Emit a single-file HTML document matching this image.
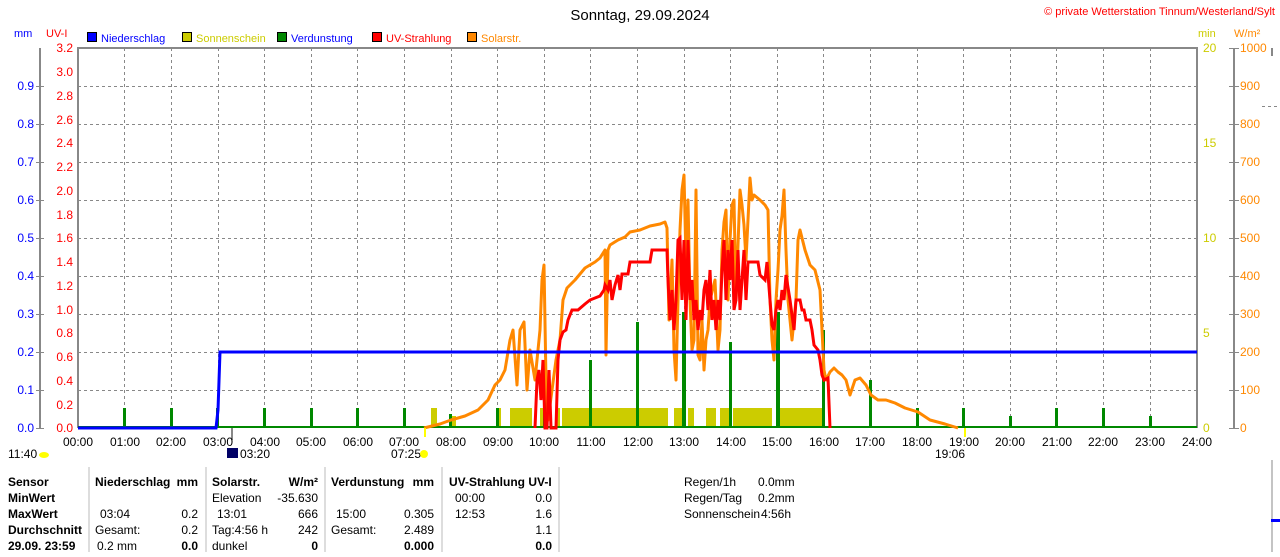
<!DOCTYPE html>
<html><head><meta charset="utf-8"><style>
body{margin:0;width:1280px;height:552px;background:#fff;overflow:hidden;font-family:"Liberation Sans",sans-serif}
svg text{font-family:"Liberation Sans",sans-serif;font-size:12px}
</style></head><body>
<svg width="1280" height="552" viewBox="0 0 1280 552" xmlns="http://www.w3.org/2000/svg">
<text x="640" y="20" text-anchor="middle" font-size="15" style="font-size:15px" fill="#000">Sonntag, 29.09.2024</text>
<text x="1275" y="15" text-anchor="end" fill="#f00" style="font-size:11px">© private Wetterstation Tinnum/Westerland/Sylt</text>
<text x="14" y="37" fill="#00f" style="font-size:11px">mm</text>
<text x="46" y="37" fill="#f00" style="font-size:11px">UV-I</text>
<g style="font-size:11px">
<rect x="87.5" y="32.5" width="9" height="9" fill="#00f" stroke="#000"/><text x="101" y="42" fill="#00f" style="font-size:11px">Niederschlag</text>
<rect x="182.5" y="32.5" width="9" height="9" fill="#cc0" stroke="#000"/><text x="196" y="42" fill="#cc0" style="font-size:11px">Sonnenschein</text>
<rect x="277.5" y="32.5" width="9" height="9" fill="#080" stroke="#000"/><text x="291" y="42" fill="#00f" style="font-size:11px">Verdunstung</text>
<rect x="372.5" y="32.5" width="9" height="9" fill="#f00" stroke="#000"/><text x="386" y="42" fill="#f00" style="font-size:11px">UV-Strahlung</text>
<rect x="467.5" y="32.5" width="9" height="9" fill="#f80" stroke="#000"/><text x="481" y="42" fill="#f80" style="font-size:11px">Solarstr.</text>
</g>
<text x="1198" y="37" fill="#cc0" style="font-size:11px">min</text>
<text x="1234" y="37" fill="#f80" style="font-size:11px">W/m²</text>
<!-- grid -->
<g stroke="#888" stroke-dasharray="3,3" stroke-width="1">
<path d="M78 86.5H1197M78 124.5H1197M78 162.5H1197M78 200.5H1197M78 238.5H1197M78 276.5H1197M78 314.5H1197M78 352.5H1197M78 390.5H1197"/>
<path d="M124.5 48V428M171.5 48V428M218.5 48V428M264.5 48V428M311.5 48V428M357.5 48V428M404.5 48V428M451.5 48V428M497.5 48V428M544.5 48V428M590.5 48V428M637.5 48V428M684.5 48V428M730.5 48V428M777.5 48V428M823.5 48V428M870.5 48V428M917.5 48V428M963.5 48V428M1010.5 48V428M1056.5 48V428M1103.5 48V428M1150.5 48V428"/>
<path d="M1262 106.5H1280"/>
</g>
<g stroke="#888" stroke-width="2" fill="none">
<path d="M78 428V48H1197V428"/>
<path d="M40 48V428M1234 48V428M1272 48V56"/>
<path d="M232 428V440"/>
</g>
<path d="M1272 460V552" stroke="#888"/>
<rect x="1271" y="519" width="9" height="3" fill="#00f"/>
<!-- left mm ticks -->
<g fill="#00f" text-anchor="end" style="font-size:11px">
<text x="34" y="90">0.9</text><text x="34" y="128">0.8</text><text x="34" y="166">0.7</text><text x="34" y="204">0.6</text><text x="34" y="242">0.5</text><text x="34" y="280">0.4</text><text x="34" y="318">0.3</text><text x="34" y="356">0.2</text><text x="34" y="394">0.1</text><text x="34" y="432">0.0</text>
</g>
<g stroke="#888"><path d="M36 86.5H44M36 124.5H44M36 162.5H44M36 200.5H44M36 238.5H44M36 276.5H44M36 314.5H44M36 352.5H44M36 390.5H44M36 428.5H44"/></g>
<g fill="#f00" text-anchor="end" style="font-size:11px">
<text x="73" y="52">3.2</text><text x="73" y="76">3.0</text><text x="73" y="100">2.8</text><text x="73" y="124">2.6</text><text x="73" y="147">2.4</text><text x="73" y="171">2.2</text><text x="73" y="195">2.0</text><text x="73" y="219">1.8</text><text x="73" y="242">1.6</text><text x="73" y="266">1.4</text><text x="73" y="290">1.2</text><text x="73" y="314">1.0</text><text x="73" y="337">0.8</text><text x="73" y="361">0.6</text><text x="73" y="385">0.4</text><text x="73" y="409">0.2</text><text x="73" y="432">0.0</text>
</g>
<g fill="#cc0" style="font-size:11px"><text x="1203" y="52">20</text><text x="1203" y="147">15</text><text x="1203" y="242">10</text><text x="1203" y="337">5</text><text x="1203" y="432">0</text></g>
<g fill="#f80" style="font-size:11px"><text x="1240" y="52">1000</text><text x="1240" y="90">900</text><text x="1240" y="128">800</text><text x="1240" y="166">700</text><text x="1240" y="204">600</text><text x="1240" y="242">500</text><text x="1240" y="280">400</text><text x="1240" y="318">300</text><text x="1240" y="356">200</text><text x="1240" y="394">100</text><text x="1240" y="432">0</text></g>
<g stroke="#888"><path d="M1229 48.5H1239M1229 86.5H1239M1229 124.5H1239M1229 162.5H1239M1229 200.5H1239M1229 238.5H1239M1229 276.5H1239M1229 314.5H1239M1229 352.5H1239M1229 390.5H1239M1229 428.5H1239"/></g>
<!-- sunshine -->
<g fill="#cc0">
<rect x="431" y="408" width="6" height="20"/><rect x="452" y="416" width="4" height="12"/><rect x="497" y="408" width="4" height="20"/><rect x="510" y="408" width="22" height="20"/><rect x="540" y="408" width="3" height="20"/><rect x="556" y="408" width="4" height="20"/><rect x="562" y="408" width="106" height="20"/><rect x="674" y="408" width="9" height="20"/><rect x="688" y="408" width="6" height="20"/><rect x="706" y="408" width="10" height="20"/><rect x="720" y="408" width="10" height="20"/><rect x="733" y="408" width="39" height="20"/><rect x="778" y="408" width="44" height="20"/>
</g>
<!-- evaporation -->
<g fill="#080">
<rect x="123" y="408" width="3" height="20"/><rect x="170" y="408" width="3" height="20"/><rect x="216" y="408" width="3" height="20"/><rect x="263" y="408" width="3" height="20"/><rect x="310" y="408" width="3" height="20"/><rect x="356" y="408" width="3" height="20"/><rect x="403" y="408" width="3" height="20"/><rect x="449" y="414" width="3" height="14"/><rect x="496" y="408" width="3" height="20"/><rect x="543" y="380" width="3" height="48"/><rect x="589" y="360" width="3" height="68"/><rect x="636" y="322" width="3" height="106"/><rect x="682" y="312" width="4" height="116"/><rect x="729" y="342" width="3" height="86"/><rect x="776" y="312" width="4" height="116"/><rect x="822" y="330" width="3" height="98"/><rect x="869" y="380" width="3" height="48"/><rect x="916" y="408" width="3" height="20"/><rect x="962" y="408" width="3" height="20"/><rect x="1009" y="416" width="3" height="12"/><rect x="1055" y="408" width="3" height="20"/><rect x="1102" y="408" width="3" height="20"/><rect x="1149" y="416" width="3" height="12"/>
</g>
<path d="M78 427H1197" stroke="#080" stroke-width="2"/>
<!-- solar -->
<polyline fill="none" stroke="#f80" stroke-width="3" stroke-linejoin="round" points="424,428 440,424 451,420 465,416 478,410 488,400 495,385 500,380 505,370 510,340 513,330 517,385 520,330 524,322 527,390 530,350 535,380 540,330 542,280 544,265 546,380 548,420 552,390 556,360 560,340 563,300 567,288 575,280 585,268 595,262 600,258 605,250 606,355 608,250 610,245 618,240 625,237 630,232 640,230 650,226 660,224 665,222 667,228 669,320 672,260 674,350 676,380 678,300 680,230 682,190 684,175 686,260 688,200 690,300 692,350 694,340 696,190 698,355 700,360 702,320 704,370 706,340 708,330 710,300 715,280 718,350 720,330 722,250 724,222 726,210 728,300 730,240 732,205 734,200 736,300 738,245 740,190 742,205 744,225 746,260 748,220 750,178 752,200 754,195 760,200 765,205 768,210 770,300 772,340 774,360 776,300 778,270 780,230 782,216 784,190 786,250 788,300 790,320 792,340 794,320 796,300 798,240 800,230 805,250 810,265 815,270 820,290 822,330 824,370 826,380 830,372 834,368 838,372 842,375 846,380 850,395 855,380 860,378 866,385 871,395 878,400 886,400 895,403 905,408 918,412 930,420 945,424 958,428"/>
<!-- UV -->
<polyline fill="none" stroke="#f00" stroke-width="3" stroke-linejoin="miter" points="535,428 537,380 539,370 541,400 543,360 545,428 547,428 549,370 551,428 556,428 558,360 560,340 563,332 566,330 568,320 572,310 578,310 585,304 590,300 595,298 600,296 604,290 605,285 608,290 610,280 612,300 615,285 618,275 620,290 622,274 628,274 630,262 640,262 650,262 652,250 667,250 668,280 670,320 672,290 674,330 676,300 678,240 680,238 682,300 684,240 686,320 688,240 690,300 692,280 694,320 696,300 698,330 700,310 702,320 704,290 706,280 708,310 710,270 712,320 714,300 716,330 718,300 720,320 722,270 724,240 726,300 728,250 730,280 732,240 734,310 736,300 738,250 740,310 742,280 744,250 746,300 748,262 755,262 758,262 760,275 765,280 767,262 770,300 772,325 774,330 776,310 778,300 780,310 782,290 784,300 786,275 790,300 794,330 796,300 800,300 802,310 804,310 806,320 810,320 812,330 814,345 818,350 820,360 822,375 824,380 828,378 830,428"/>
<!-- rain -->
<polyline fill="none" stroke="#00f" stroke-width="3" points="78,428 216,428 218,410 220,352 1197,352"/>
<!-- x labels -->
<g fill="#000" text-anchor="middle" style="font-size:11px">
<text x="78" y="446">00:00</text><text x="125" y="446">01:00</text><text x="171" y="446">02:00</text><text x="218" y="446">03:00</text><text x="265" y="446">04:00</text><text x="311" y="446">05:00</text><text x="358" y="446">06:00</text><text x="404" y="446">07:00</text><text x="451" y="446">08:00</text><text x="498" y="446">09:00</text><text x="544" y="446">10:00</text><text x="591" y="446">11:00</text><text x="638" y="446">12:00</text><text x="684" y="446">13:00</text><text x="731" y="446">14:00</text><text x="777" y="446">15:00</text><text x="824" y="446">16:00</text><text x="870" y="446">17:00</text><text x="917" y="446">18:00</text><text x="964" y="446">19:00</text><text x="1010" y="446">20:00</text><text x="1057" y="446">21:00</text><text x="1103" y="446">22:00</text><text x="1150" y="446">23:00</text><text x="1197" y="446">24:00</text>
</g>
<g fill="#000" style="font-size:11px"><text x="8" y="458">11:40</text><text x="240" y="458">03:20</text><text x="391" y="458">07:25</text><text x="935" y="458">19:06</text></g>
<ellipse cx="44" cy="455" rx="5" ry="3" fill="#ff0"/>
<rect x="227" y="448" width="11" height="10" fill="#006"/>
<circle cx="424" cy="454" r="4" fill="#ff0"/>
<rect x="424" y="428" width="2" height="9" fill="#ff0"/>
<rect x="964" y="428" width="2" height="9" fill="#ff0"/>
<!-- table -->
<g stroke="#bbb"><path d="M89 467V552M206 467V552M325 467V552M442 467V552M559 467V552"/></g>
<g fill="#000" style="font-size:11px">
<g font-weight="bold"><text x="8" y="486">Sensor</text><text x="8" y="502">MinWert</text><text x="8" y="518">MaxWert</text><text x="8" y="534">Durchschnitt</text><text x="8" y="550">29.09. 23:59</text>
<text x="95" y="486">Niederschlag</text><text x="198" y="486" text-anchor="end">mm</text>
<text x="212" y="486">Solarstr.</text><text x="318" y="486" text-anchor="end">W/m²</text>
<text x="331" y="486">Verdunstung</text><text x="434" y="486" text-anchor="end">mm</text>
<text x="449" y="486">UV-Strahlung UV-I</text>
<text x="198" y="550" text-anchor="end">0.0</text><text x="318" y="550" text-anchor="end">0</text><text x="434" y="550" text-anchor="end">0.000</text><text x="552" y="550" text-anchor="end">0.0</text></g>
<text x="100" y="518">03:04</text><text x="198" y="518" text-anchor="end">0.2</text>
<text x="95" y="534">Gesamt:</text><text x="198" y="534" text-anchor="end">0.2</text>
<text x="97" y="550">0.2 mm</text>
<text x="212" y="502">Elevation</text><text x="318" y="502" text-anchor="end">-35.630</text>
<text x="217" y="518">13:01</text><text x="318" y="518" text-anchor="end">666</text>
<text x="212" y="534">Tag:4:56 h</text><text x="318" y="534" text-anchor="end">242</text>
<text x="212" y="550">dunkel</text>
<text x="336" y="518">15:00</text><text x="434" y="518" text-anchor="end">0.305</text>
<text x="331" y="534">Gesamt:</text><text x="434" y="534" text-anchor="end">2.489</text>
<text x="455" y="502">00:00</text><text x="552" y="502" text-anchor="end">0.0</text>
<text x="455" y="518">12:53</text><text x="552" y="518" text-anchor="end">1.6</text>
<text x="552" y="534" text-anchor="end">1.1</text>
<text x="684" y="486">Regen/1h</text><text x="758" y="486">0.0mm</text>
<text x="684" y="502">Regen/Tag</text><text x="758" y="502">0.2mm</text>
<text x="684" y="518">Sonnenschein</text><text x="761" y="518">4:56h</text>
</g>
</svg>
</body></html>
